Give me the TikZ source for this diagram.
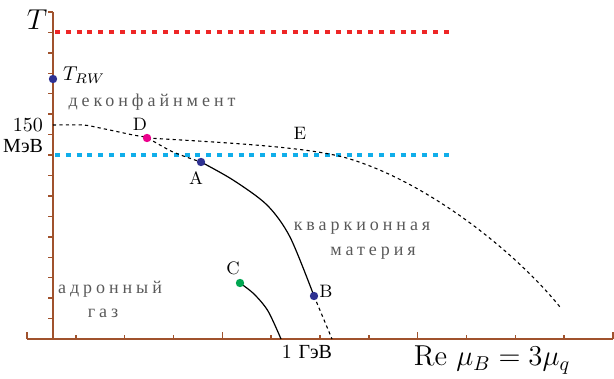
\documentclass[tikz,border=0pt]{standalone}
\usepackage{amsmath,amssymb}
\usepackage{fontspec}
\usepackage{tikz}
\newfontfamily\cyr{Liberation Serif}
\newfontfamily\cyrsp[LetterSpace=22]{Liberation Serif}
\definecolor{axisbrown}{HTML}{A0522D}
\definecolor{hotred}{HTML}{EE2626}
\definecolor{skyblue}{HTML}{10AEEA}
\definecolor{navy}{HTML}{2E3192}
\definecolor{pink}{HTML}{EC008C}
\definecolor{grn}{HTML}{00A651}

\begin{document}
\begin{tikzpicture}[x=0.5pt,y=0.5pt,every node/.style={font=\small},
	dot/.style={circle,fill,inner sep=0pt,minimum size=4.2pt},
	region/.style={font=\cyrsp\small,text=black!65},
	bound/.style={black,line width=0.55pt,dash pattern=on 1.6pt off 1.6pt},
	level/.style={line width=2pt,dash pattern=on 2.5pt off 2.9pt},
	axis/.style={axisbrown,line width=0.7pt}]
	\useasboundingbox (-53,-40) rectangle (561,339);
	% axes and ticks
	\draw[axis] (-26,0) -- (560,0);
	\draw[axis] (0,0) -- (0,327);
	\foreach \k in {0,...,12} {\draw[axis] ({-26+48.83*\k},0) -- ++(0,{ifthenelse(mod(\k,4)==0,7,4)});}
	\foreach \k in {0,...,16} {\draw[axis] (0,{327-20.44*\k}) -- ++(-5,0);}
	\node (T) at (-16,319) {\Large $T$};
	\node (mu) at (439,-21) {\Large $\mathrm{Re}\ \mu_B=3\mu_q$};
	\node[anchor=east] (t150) at (-3,214) {\normalsize 150};
	\node[anchor=east] (mev) at (-3,193) {\normalsize\cyr МэВ};
	\node (gev) at (254,-13) {\normalsize 1 {\cyr ГэВ}};
	% horizontal levels
	\coordinate (r0) at (2,307); \coordinate (r1) at (401,307);
	\coordinate (b0) at (2,184); \coordinate (b1) at (401,184);
	\draw[level,hotred] (r0) -- (r1);
	\draw[level,skyblue] (b0) -- (b1);
	% phase boundaries
	\coordinate (c150) at (0,214);
	\coordinate (d) at (94,201);
	\coordinate (a) at (148,177);
	\coordinate (b) at (261,43);
	\coordinate (c) at (187,56);
	\coordinate (bend) at (279,0);
	\coordinate (cend) at (228,0);
	\coordinate (e) at (290,182);
	\coordinate (eend) at (507,32);
	\draw[bound] plot[smooth] coordinates {(c150) (30,214) (47,211) (80,204) (d) (120,187) (a)};
	\draw[bound] (d) .. controls (180,196) and (250,192) .. (e) .. controls (370,160) and (460,90) .. (eend);
	\draw[black,line width=0.6pt] plot[smooth] coordinates {(a) (180,159) (214,134) (237,102) (b)};
	\draw[bound] (b) -- (bend);
	\draw[black,line width=0.6pt] plot[smooth] coordinates {(c) (201,45) (215,28) (cend)};
	% points
	\node[dot,navy] (TRW) at (0,260) {};
	\node[dot,pink] (D) at (d) {};
	\node[dot,navy] (A) at (a) {};
	\node[dot,navy] (B) at (b) {};
	\node[dot,grn] (C) at (c) {};
	\node[anchor=west] (trwl) at (3,264) {\normalsize $T_{RW}$};
	\node (dl) at (87,215) {D};
	\node (al) at (143,161) {A};
	\node (bl) at (273,48) {B};
	\node (cl) at (180,71) {C};
	\node (el) at (247,206) {E};
	% regions
	\node[region] (deconf) at (99,237) {деконфайнмент};
	\node[region] (quark1) at (309,111) {кваркионная};
	\node[region] (quark2) at (320,86) {материя};
	\node[region] (hadr1) at (57,50) {адронный};
	\node[region] (hadr2) at (50,26) {газ};
\end{tikzpicture}
\end{document}
